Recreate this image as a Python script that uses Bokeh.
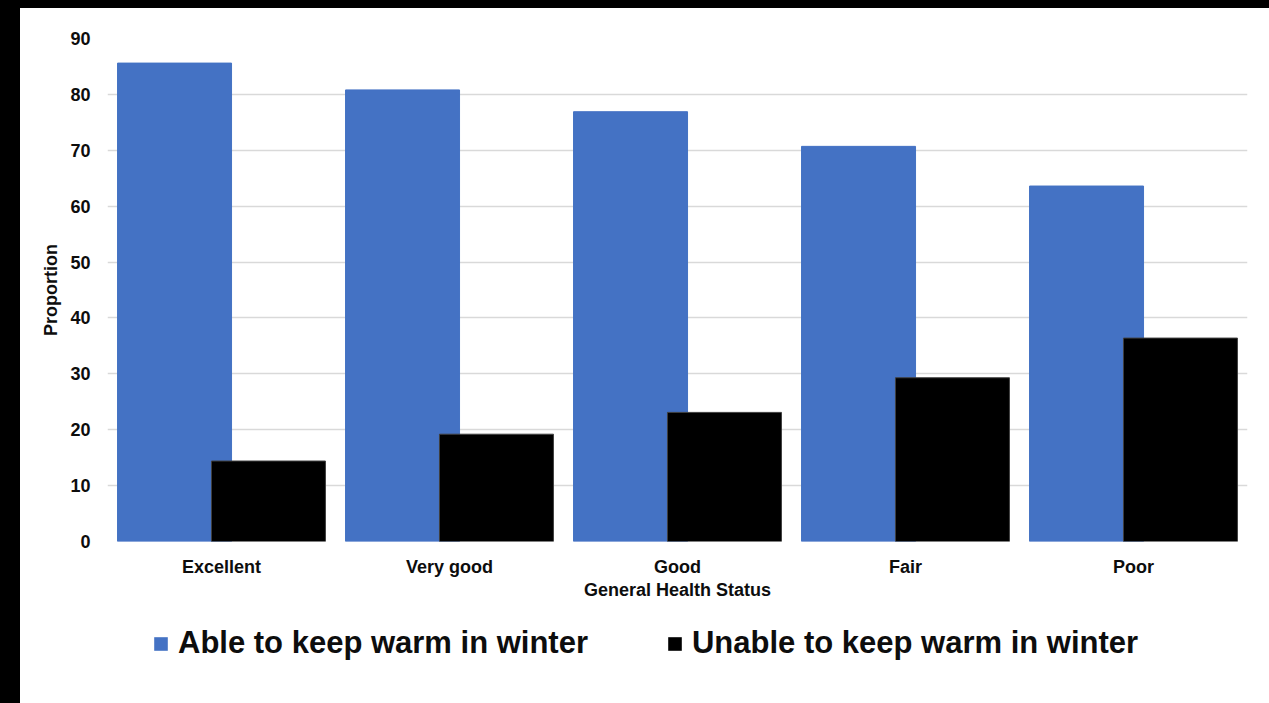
from bokeh.plotting import figure
from bokeh.models import (ColumnDataSource, FactorRange, Range1d, FixedTicker,
                          Legend, LegendItem, Spacer)
from bokeh.transform import dodge
from bokeh.layouts import row, column
from bokeh.embed import file_html
from bokeh.resources import INLINE

# ---- data ----
categories = ["Excellent", "Very good", "Good", "Fair", "Poor"]
able_warm = [85.6, 80.8, 76.9, 70.7, 63.6]
unable_warm = [14.4, 19.2, 23.1, 29.3, 36.4]
y_ticks = [0, 10, 20, 30, 40, 50, 60, 70, 80, 90]
series_names = ["Able to keep warm in winter", "Unable to keep warm in winter"]
x_title = "General Health Status"
y_title = "Proportion"

FONT = "Liberation Sans"
BLUE = "#4472C4"
BLACK = "#000000"
GRID = "#D9D9D9"
TXT = "#0d0d0d"

src = ColumnDataSource(data=dict(cat=categories, able=able_warm, unable=unable_warm))

p = figure(
    x_range=FactorRange(*categories, range_padding=0),
    y_range=Range1d(0, 90),
    width=1249, height=600,
    output_backend="svg", toolbar_location=None,
    min_border_left=87, min_border_right=22,
    min_border_top=30, min_border_bottom=67,
    outline_line_color=None,
    background_fill_color="white", border_fill_color="white",
)

r_able = p.vbar(x=dodge("cat", -0.206, range=p.x_range), top="able", width=0.5,
                source=src, fill_color=BLUE, line_color=BLUE)
r_unable = p.vbar(x=dodge("cat", 0.206, range=p.x_range), top="unable", width=0.5,
                  source=src, fill_color=BLACK, line_color="#404040", line_width=1)

# grid
p.xgrid.grid_line_color = None
p.ygrid.grid_line_color = GRID
p.ygrid.grid_line_width = 1.3
p.ygrid.ticker = FixedTicker(ticks=y_ticks)

# y axis
p.yaxis.ticker = FixedTicker(ticks=y_ticks)
p.yaxis.axis_line_color = None
p.yaxis.major_tick_line_color = None
p.yaxis.minor_tick_line_color = None
p.yaxis.major_tick_out = 0
p.yaxis.major_tick_in = 0
p.yaxis.major_label_standoff = 17
p.yaxis.major_label_text_font = FONT
p.yaxis.major_label_text_font_size = "18px"
p.yaxis.major_label_text_font_style = "bold"
p.yaxis.major_label_text_color = TXT
p.yaxis.axis_label = y_title
p.yaxis.axis_label_text_font = FONT
p.yaxis.axis_label_text_font_size = "18px"
p.yaxis.axis_label_text_font_style = "bold"
p.yaxis.axis_label_text_color = TXT
p.yaxis.axis_label_standoff = 6

# x axis
p.xaxis.axis_line_color = None
p.xaxis.major_tick_line_color = None
p.xaxis.minor_tick_line_color = None
p.xaxis.major_tick_out = 0
p.xaxis.major_tick_in = 0
p.xaxis.major_label_standoff = 15
p.xaxis.major_label_text_font = FONT
p.xaxis.major_label_text_font_size = "18px"
p.xaxis.major_label_text_font_style = "bold"
p.xaxis.major_label_text_color = TXT
p.xaxis.axis_label = x_title
p.xaxis.axis_label_text_font = FONT
p.xaxis.axis_label_text_font_size = "18px"
p.xaxis.axis_label_text_font_style = "bold"
p.xaxis.axis_label_text_color = TXT
p.xaxis.axis_label_standoff = 0

# ---- legend strip below the chart (same series; its y window lies far above the data) ----
lf = figure(
    width=1249, height=95,
    x_range=p.x_range, y_range=Range1d(1000, 1001),
    output_backend="svg", toolbar_location=None,
    x_axis_type=None, y_axis_type=None,
    min_border_left=87, min_border_right=22, min_border_top=0, min_border_bottom=0,
    outline_line_color=None,
    background_fill_color="white", border_fill_color="white",
)
lf.xgrid.grid_line_color = None
lf.ygrid.grid_line_color = None

k_able = lf.vbar(x=dodge("cat", -0.206, range=lf.x_range), top="able", width=0.5,
                 source=src, fill_color=BLUE, line_color=None)
k_unable = lf.vbar(x=dodge("cat", 0.206, range=lf.x_range), top="unable", width=0.5,
                   source=src, fill_color=BLACK, line_color=None)

legend = Legend(
    items=[LegendItem(label=series_names[0], renderers=[k_able]),
           LegendItem(label=series_names[1], renderers=[k_unable])],
    orientation="horizontal",
    location=(45, 42),
    glyph_width=17, glyph_height=17,
    label_standoff=9, spacing=78,
    label_text_font=FONT, label_text_font_size="31px",
    label_text_font_style="bold", label_text_color=TXT,
    border_line_color=None, background_fill_alpha=0,
    padding=0, margin=0,
)
lf.add_layout(legend, "center")

layout = column(
    Spacer(width=1269, height=8, styles={"background-color": "#000000"}),
    row(Spacer(width=20, height=695, styles={"background-color": "#000000"}),
        column(p, lf, spacing=0), spacing=0),
    spacing=0,
)

html = file_html(layout, INLINE)
html = html.replace(
    "</head>",
    "<style>html,body{margin:0;padding:0;background-color:#ffffff;}</style></head>", 1)
open("out.html", "w").write(html)
